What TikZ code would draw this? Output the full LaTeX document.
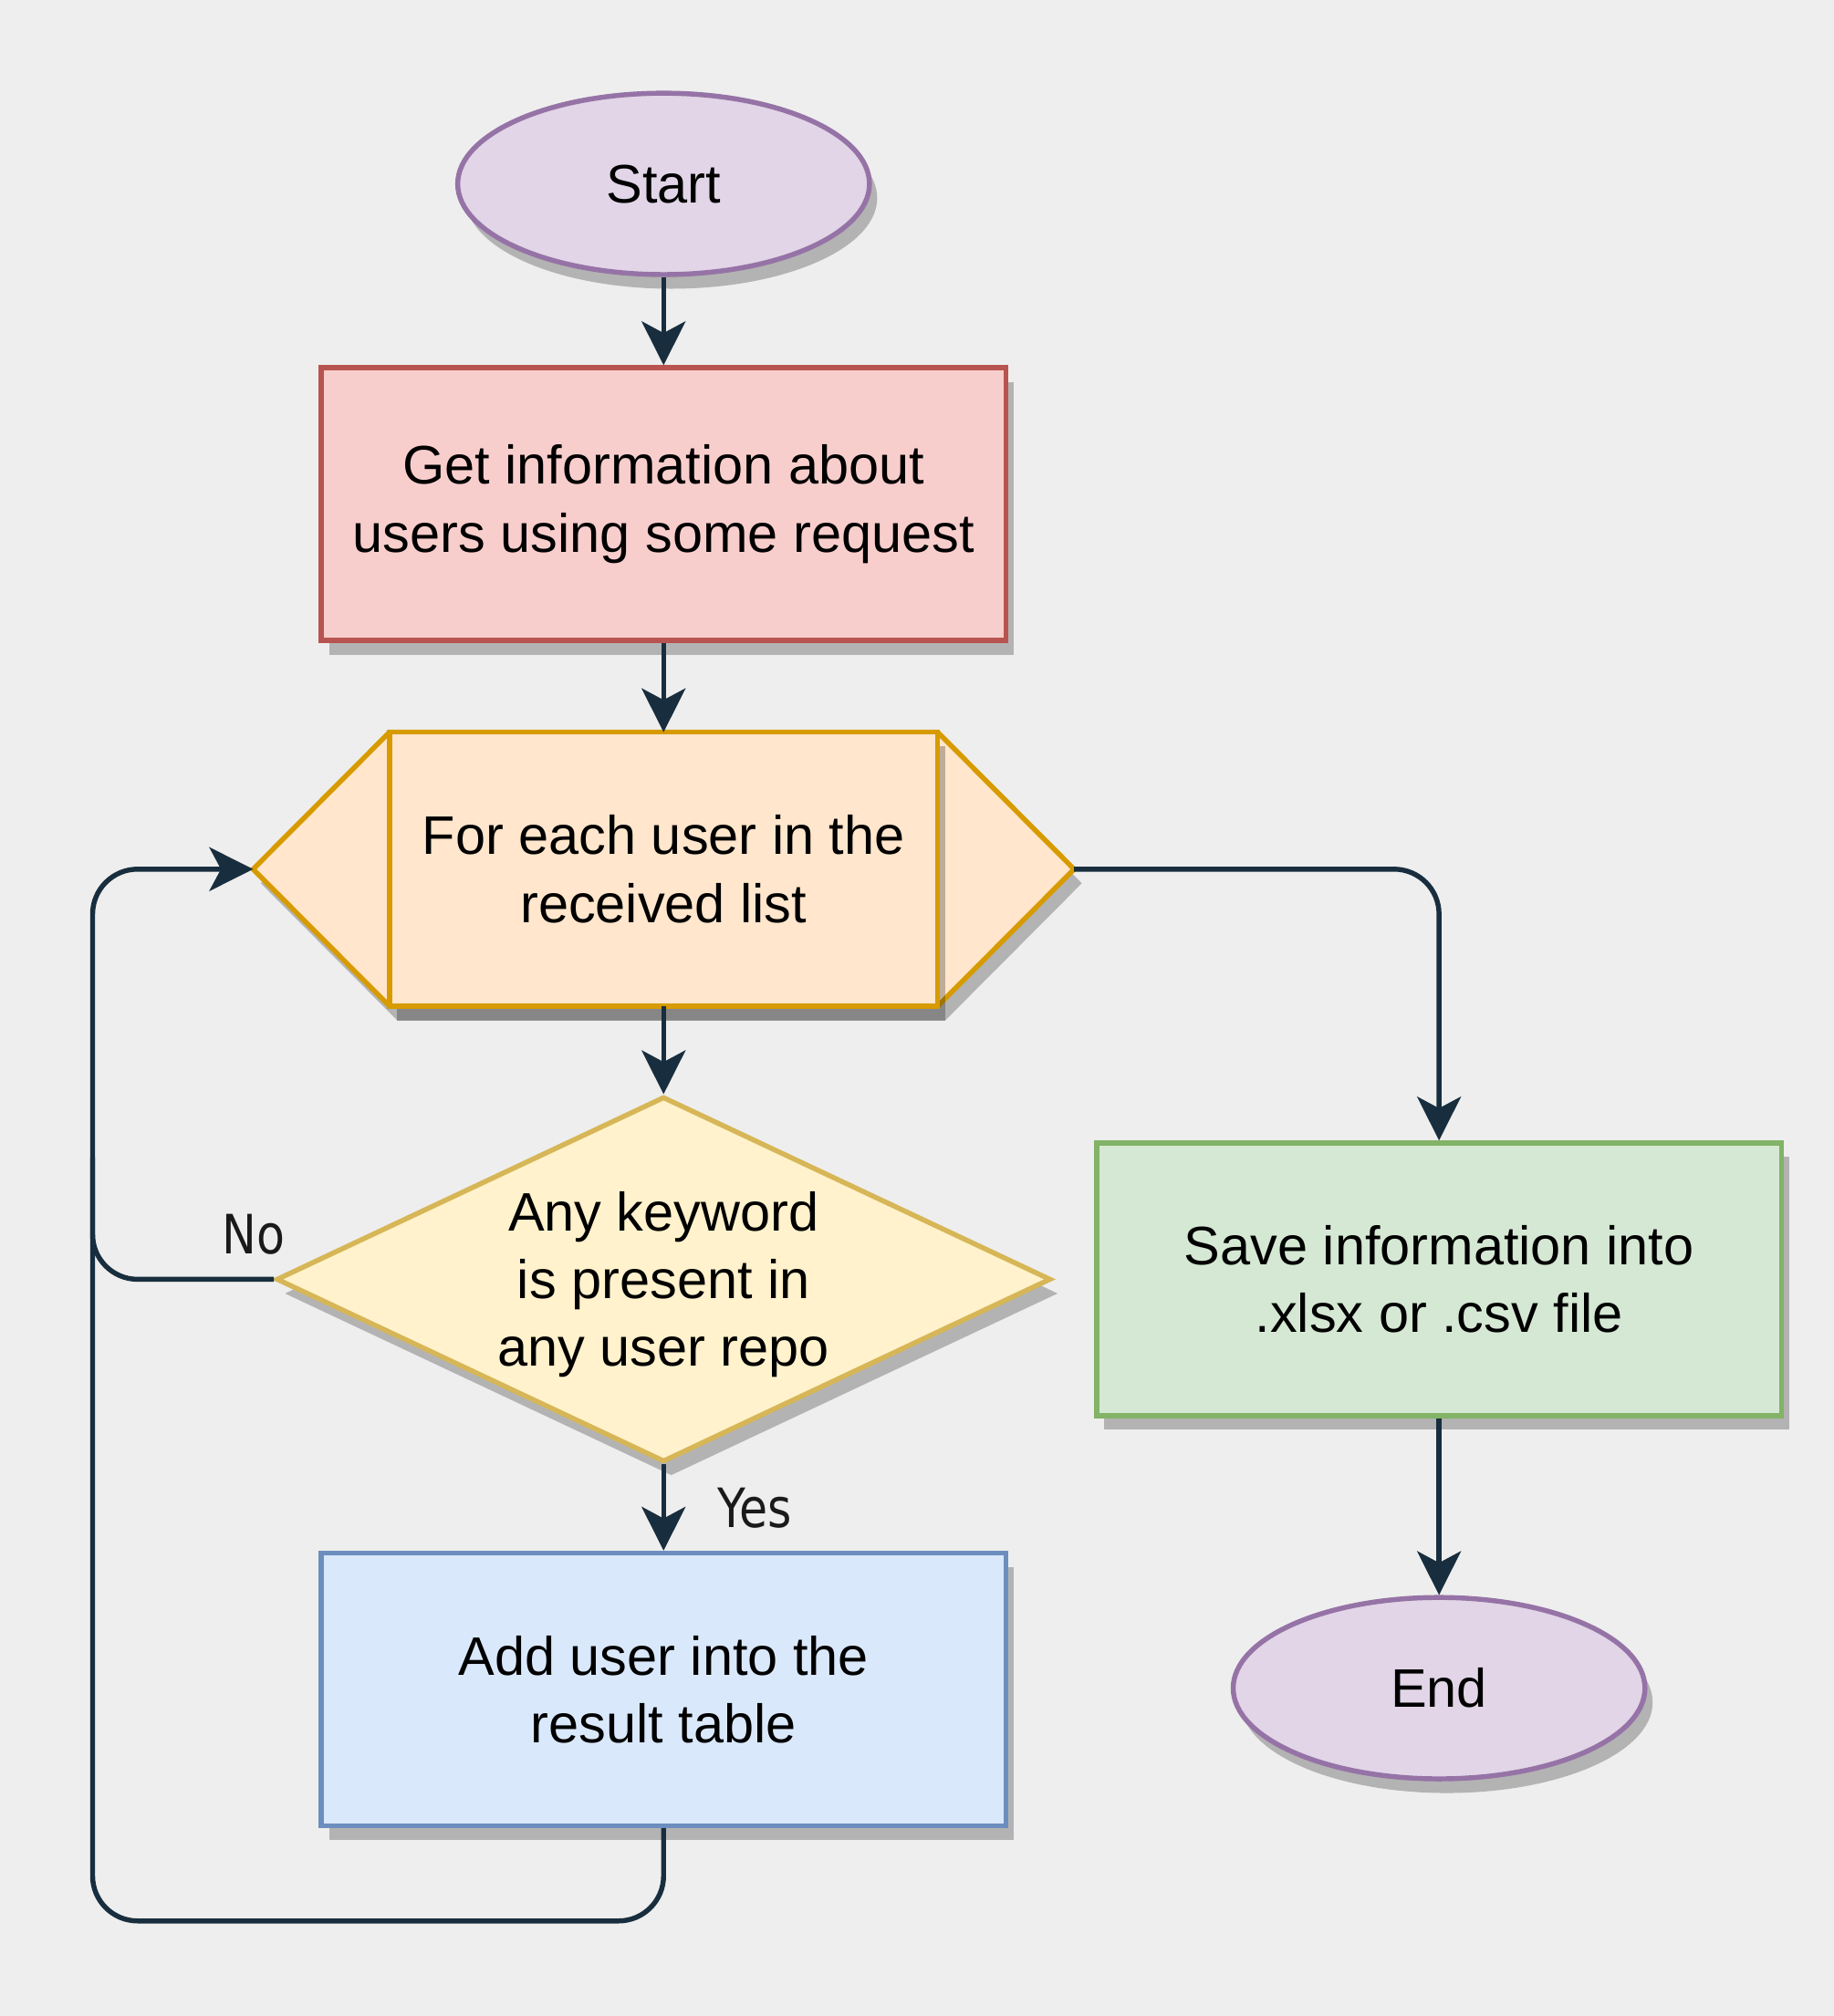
\documentclass[tikz,border=0pt]{standalone}
\usepackage{fontspec}
\setmainfont{Liberation Sans}
\newfontfamily\labelfont[FakeStretch=0.85]{DejaVu Sans}
\usetikzlibrary{arrows.meta, shapes.geometric, shadows, backgrounds}

\definecolor{bgcol}{HTML}{EEEEEE}
\definecolor{shadowgray}{HTML}{B3B3B3}
\definecolor{flowline}{HTML}{182E3E}
\definecolor{labelgray}{HTML}{1A1A1A}
\definecolor{termfill}{HTML}{E1D5E7}
\definecolor{termline}{HTML}{9673A6}
\definecolor{getfill}{HTML}{F8CECC}
\definecolor{getline}{HTML}{B85450}
\definecolor{loopfill}{HTML}{FFE6CC}
\definecolor{loopline}{HTML}{D79B00}
\definecolor{condfill}{HTML}{FFF2CC}
\definecolor{condline}{HTML}{D6B656}
\definecolor{addfill}{HTML}{DAE8FC}
\definecolor{addline}{HTML}{6C8EBF}
\definecolor{savefill}{HTML}{D5E8D4}
\definecolor{saveline}{HTML}{82B366}

\begin{document}
\begin{tikzpicture}[x=0.01cm, y=-0.01cm,
  every node/.style={font=\fontsize{12}{15}\selectfont, align=center, text=black},
  boxshadow/.style={drop shadow={shadow xshift=0.06cm, shadow yshift=-0.11cm, fill=shadowgray, opacity=1}},
  term/.style={ellipse, draw=termline, fill=termfill, line width=1.1pt, minimum width=3.2cm, minimum height=1.41cm, boxshadow},
  procbox/.style={rectangle, line width=1.1pt, minimum width=5.32cm, minimum height=2.12cm, boxshadow},
  loopbox/.style={rectangle, draw=loopline, fill=loopfill, line width=1.1pt, minimum width=4.26cm, minimum height=2.13cm, outer sep=0pt},
  decision/.style={diamond, draw=condline, fill=condfill, line width=1.1pt, minimum width=6.02cm, minimum height=2.84cm, inner sep=0pt, boxshadow},
  flow/.style={draw=flowline, line width=1.1pt, rounded corners=0.35cm, -{Stealth[length=3.4mm, width=3.4mm, inset=0.9mm]}},
  tag/.style={font=\labelfont\fontsize{12}{14}\selectfont, text=labelgray}
]
\useasboundingbox (0,0) rectangle (1426,1568);

% nodes
\node[term] (start) at (516,143) {Start};
\node[procbox, draw=getline, fill=getfill] (get) at (516,392) {Get information about\\users using some request};
\node[loopbox] (loop) at (516,676) {For each user in the\\received list};
\node[decision] (cond) at (516,995) {};
\node (condtext) at ([yshift=-0.04cm]cond.center) {Any keyword\\ is present in\\ any user repo};
\node[procbox, draw=addline, fill=addfill] (add) at (516,1314) {Add user into the\\ result table};
\node[procbox, draw=saveline, fill=savefill] (save) at (1119,995) {Save information into\\.xlsx or .csv file};
\node[term] (end) at (1119,1313) {End};

\coordinate (loopL) at ([xshift=-1.06cm]loop.west);
\coordinate (loopR) at ([xshift=1.06cm]loop.east);
\coordinate (lane) at (72,676);
\coordinate (join) at (72,900);
\coordinate (bend) at ([yshift=-0.72cm]add.south);

% loop hexagon behind the box
\begin{scope}[on background layer]
\fill[bgcol] (0,0) rectangle (1426,1568);
\fill[shadowgray, transform canvas={xshift=0.06cm, yshift=-0.11cm}] (loop.north west) -- (loopL) -- (loop.south west) -- (loop.south east) -- (loopR) -- (loop.north east) -- cycle;
\draw[loopline, fill=loopfill, line width=1.1pt] (loop.north west) -- (loopL) -- (loop.south west) -- (loop.south east) -- (loopR) -- (loop.north east) -- cycle;
\fill[black, opacity=0.25, transform canvas={xshift=0.06cm, yshift=-0.11cm}] (loop.north west) rectangle (loop.south east);
\end{scope}

% connectors
\draw[flow] (start.south) -- (get.north);
\draw[flow] (get.south) -- (loop.north);
\draw[flow] (loop.south) -- (cond.north);
\draw[flow] (cond.south) -- (add.north);
\draw[flow] (cond.west) -| (lane) -- (loopL);
\draw[draw=flowline, line width=1.1pt, rounded corners=0.35cm] (add.south) -- (bend) -| (join);
\draw[flow] (loopR) -| (save.north);
\draw[flow] (save.south) -- (end.north);

\node[tag] (no) at (197,960) {No};
\node[tag] (yes) at (587,1173) {Yes};
\end{tikzpicture}
\end{document}
